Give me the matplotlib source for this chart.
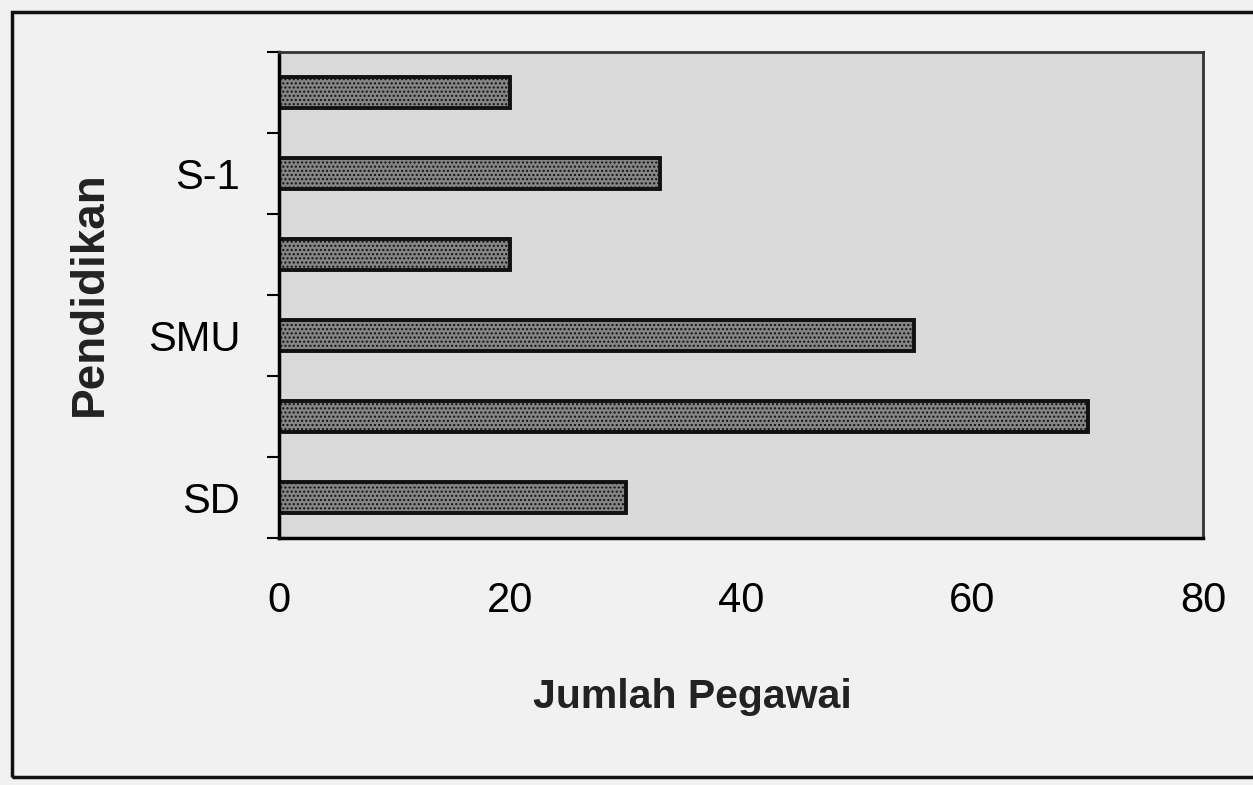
import numpy as np
import matplotlib.pyplot as plt
from matplotlib.patches import Rectangle

# Data (bottom to top, as drawn)
pendidikan = ['SD', 'SLTP', 'SMU', 'D-3', 'S-1', 'S-2']
jumlah_pegawai = [30, 70, 55, 20, 33, 20]
# Only every other category is labelled in the original chart
tick_labels = ['SD', '', 'SMU', '', 'S-1', '']
x_ticks = [0, 20, 40, 60, 80]

plt.rcParams['font.family'] = ['Liberation Sans', 'DejaVu Sans']
plt.rcParams['hatch.color'] = '#a8a8a8'

fig = plt.figure(figsize=(12.53, 7.85), dpi=100)
fig.patch.set_facecolor('#f1f1f1')

# outer chart frame
fig.patches.append(Rectangle((12 / 1253, 8 / 785), 1.2, 765 / 785,
                             transform=fig.transFigure, fill=False,
                             edgecolor='#111111', linewidth=2.5))

ax = fig.add_axes([279 / 1253, 247 / 785, 924 / 1253, 486 / 785])
ax.set_facecolor('#dadada')

y = np.arange(len(pendidikan))
ax.barh(y, jumlah_pegawai, height=0.38, color='#858585',
        edgecolor='#111111', linewidth=2.8, hatch='....')

ax.set_xlim(0, 80)
ax.set_ylim(-0.5, len(pendidikan) - 0.5)

ax.set_xticks(x_ticks)
ax.set_xticklabels([str(t) for t in x_ticks], fontsize=30)
ax.tick_params(axis='x', length=0, pad=31)

ax.set_yticks(y)
ax.set_yticklabels(tick_labels, fontsize=30)
ax.tick_params(axis='y', which='major', length=0, pad=28)

# tick marks sit on category boundaries
ax.set_yticks(np.arange(-0.5, len(pendidikan), 1.0), minor=True)
ax.tick_params(axis='y', which='minor', length=9, width=1.5, direction='out')

for side in ['left', 'bottom']:
    ax.spines[side].set_linewidth(2.5)
for side in ['top', 'right']:
    ax.spines[side].set_linewidth(2.0)
    ax.spines[side].set_color('#333333')

fig.text(692 / 1253, 1 - 697 / 785, 'Jumlah Pegawai', fontsize=29.5,
         fontweight='bold', ha='center', va='center', color='#222222')
fig.text(90 / 1253, 1 - 294 / 785, 'Pendidikan', fontsize=33,
         fontweight='bold', ha='center', va='center', rotation=90,
         color='#222222')

fig.savefig('out.png', dpi=100, facecolor=fig.get_facecolor())
